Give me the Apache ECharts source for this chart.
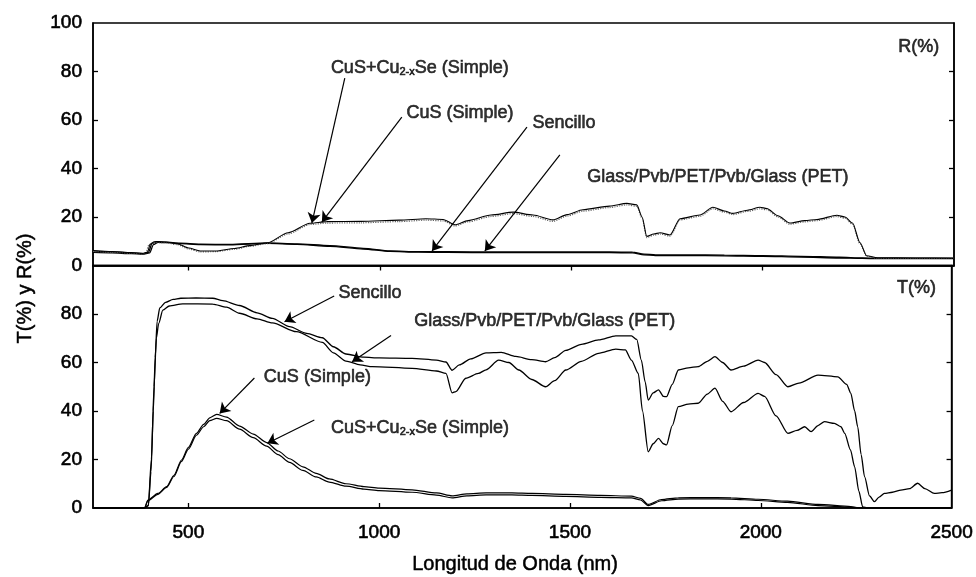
<!DOCTYPE html>
<html><head><meta charset="utf-8">
<script src="https://cdn.jsdelivr.net/npm/echarts@6/dist/echarts.min.js"></script>
<style>html,body{margin:0;padding:0;background:#fff}#c{width:976px;height:577px}</style>
</head><body><div id="c"></div>
<script>
// ---------- tick values ----------
const xTickValues = [500, 1000, 1500, 2000, 2500];
const xInnerTicks = [500, 1000, 1500, 2000];
const yLabelsTop = [0, 20, 40, 60, 80, 100];
const yLabelsBottom = [0, 20, 40, 60, 80];
const yInnerTicks = [20, 40, 60, 80];

// ---------- reflectance R(%) (top panel) [wavelength nm, %] ----------
const rSencillo = [[250,6.0],[300,5.6],[350,5.2],[380,4.9],[395,5.4],[404,9.0],[415,9.8],[440,9.6],[477,9.2],[530,8.8],[608,8.7],[705,9.3],[783,8.9],[869,8.2],[956,7.1],[1026,6.0],[1100,5.7],[1175,5.7],[1306,5.6],[1400,5.6],[1500,5.6],[1600,5.6],[1660,5.5],[1690,4.7],[1720,4.4],[1800,4.4],[1900,4.3],[2000,4.1],[2100,3.8],[2200,3.4],[2260,3.1],[2300,3.0],[2500,3.0]];
const rPET = [[250,5.4],[300,5.2],[350,4.9],[380,4.7],[398,5.2],[408,8.6],[420,9.5],[440,9.4],[477,9.0],[530,8.6],[608,8.5],[705,9.1],[783,8.7],[869,7.9],[956,6.8],[1026,5.8],[1100,5.5],[1175,5.4],[1306,5.3],[1400,5.3],[1500,5.3],[1600,5.3],[1660,5.2],[1690,4.4],[1720,4.1],[1800,4.1],[1900,4.0],[2000,3.8],[2100,3.5],[2200,3.1],[2260,2.9],[2300,2.8],[2500,2.8]];
const rCuSSe = [[250,6.2],[300,5.8],[350,5.3],[380,5.0],[392,5.5],[400,8.8],[410,9.8],[440,9.7],[470,9.0],[500,7.2],[530,6.0],[570,6.0],[620,7.0],[660,8.2],[705,9.3],[760,13.5],[817,17.4],[861,18.1],[950,18.2],[1050,18.7],[1120,19.3],[1165,19.0],[1196,16.8],[1230,18.5],[1290,20.8],[1348,22.0],[1400,20.8],[1452,18.8],[1489,21.0],[1530,23.0],[1600,24.5],[1645,25.6],[1671,25.0],[1685,20.0],[1697,12.0],[1715,13.0],[1732,13.5],[1758,12.6],[1784,19.3],[1836,20.8],[1870,24.0],[1900,22.5],[1922,21.5],[1960,22.8],[1993,24.0],[2011,23.5],[2040,20.5],[2071,17.5],[2110,18.5],[2142,19.0],[2194,20.7],[2215,20.0],[2235,17.5],[2254,9.5],[2272,4.0],[2300,3.2],[2400,3.1],[2500,3.0]];
const rCuS = [[250,5.8],[300,5.5],[350,5.1],[380,4.8],[388,5.2],[396,8.5],[408,9.5],[440,9.4],[470,8.6],[500,6.8],[530,5.6],[570,5.7],[620,6.7],[660,7.9],[705,9.0],[760,13.0],[817,16.9],[861,17.5],[950,17.6],[1050,18.1],[1120,18.7],[1165,18.4],[1196,16.3],[1230,18.0],[1290,20.2],[1348,21.4],[1400,20.2],[1452,18.2],[1489,20.4],[1530,22.4],[1600,23.9],[1645,25.0],[1671,24.4],[1685,19.4],[1697,11.5],[1715,12.5],[1732,13.0],[1758,12.1],[1784,18.8],[1836,20.3],[1870,23.4],[1900,22.0],[1922,21.0],[1960,22.3],[1993,23.4],[2011,23.0],[2040,20.0],[2071,17.0],[2110,18.0],[2142,18.5],[2194,20.2],[2215,19.5],[2235,17.0],[2254,9.0],[2272,3.7],[2300,3.0],[2400,2.9],[2500,2.9]];

// ---------- transmittance T(%) (bottom panel) [wavelength nm, %] ----------
const tSencillo = [[250,0],[385,0],[395,1],[402,15],[408,40],[413,62],[418,77],[425,82.5],[440,84.8],[460,86.0],[480,86.5],[520,86.6],[564,86.5],[590,85.5],[634,83.5],[680,80.5],[720,78.2],[765,74.8],[810,72.0],[851,70.2],[880,66.5],[913,63.5],[960,62.2],[1000,61.9],[1086,61.7],[1150,61.0],[1175,60.2],[1191,56.8],[1210,59.0],[1240,61.5],[1280,64.0],[1320,64.2],[1358,62.5],[1400,61.2],[1436,60.3],[1460,62.0],[1489,65.0],[1530,67.5],[1575,69.3],[1620,71.0],[1661,71.0],[1675,69.5],[1687,61.0],[1697,52.0],[1705,44.5],[1718,47.5],[1732,48.7],[1745,46.0],[1753,45.9],[1768,51.0],[1784,56.9],[1810,57.8],[1836,58.3],[1860,60.5],[1880,62.4],[1900,60.0],[1922,56.9],[1955,58.5],[1993,61.0],[2010,60.0],[2040,55.0],[2071,50.0],[2100,51.5],[2150,54.8],[2202,54.1],[2225,51.0],[2236,47.3],[2246,40.0],[2254,33.5],[2263,22.0],[2272,12.9],[2285,5.0],[2298,2.6],[2310,4.5],[2324,6.0],[2345,6.5],[2367,7.4],[2390,8.0],[2411,10.2],[2430,8.0],[2455,6.0],[2475,6.3],[2500,7.4]];
const tPET = [[250,0],[385,0],[395,1],[403,20],[410,50],[416,70],[422,76],[433,81.6],[450,83.3],[485,84.2],[564,84.1],[600,82.8],[634,80.3],[680,78.0],[720,76.3],[783,72.7],[851,68.3],[880,64.0],[913,60.6],[950,59.0],[982,58.3],[1086,57.6],[1150,56.5],[1175,55.5],[1191,47.5],[1201,48.0],[1227,53.5],[1260,55.5],[1280,57.0],[1313,61.0],[1340,60.0],[1366,56.9],[1400,53.0],[1436,50.0],[1460,52.5],[1489,56.9],[1530,60.5],[1575,63.8],[1620,65.5],[1645,65.2],[1661,61.0],[1679,55.5],[1690,40.0],[1705,23.2],[1718,26.5],[1732,28.7],[1745,26.5],[1753,26.0],[1768,34.0],[1784,41.8],[1810,42.8],[1836,43.2],[1860,47.0],[1880,49.4],[1900,44.0],[1922,39.7],[1955,43.5],[1993,47.3],[2010,46.0],[2040,38.0],[2071,30.8],[2095,32.0],[2115,33.5],[2132,31.5],[2150,34.0],[2167,35.6],[2193,34.9],[2210,33.5],[2220,30.8],[2235,24.0],[2246,17.0],[2257,7.0],[2267,0.5],[2280,0],[2500,0]];
const tCuS = [[250,0],[385,0],[394,3.3],[420,6.0],[443,8.8],[462,13.5],[482,19.8],[500,25.0],[521,30.8],[540,34.5],[556,37.2],[574,38.6],[600,37.5],[634,33.8],[670,30.5],[705,27.0],[735,23.5],[765,20.3],[800,17.0],[835,14.3],[869,12.0],[913,10.0],[960,8.8],[1000,8.2],[1086,7.5],[1150,6.2],[1191,5.0],[1230,5.8],[1280,6.2],[1348,6.2],[1400,6.0],[1489,5.6],[1580,5.2],[1661,4.9],[1685,4.0],[1705,1.5],[1740,3.5],[1784,4.2],[1850,4.3],[1922,4.2],[1993,3.6],[2070,2.8],[2150,1.5],[2236,0.6],[2260,0],[2500,0]];
const tCuSSe = [[250,0],[385,0],[394,3.0],[420,5.6],[443,8.5],[462,13.0],[482,19.2],[500,24.3],[521,30.0],[540,33.5],[556,36.0],[574,37.0],[600,36.0],[634,32.5],[670,29.0],[705,25.5],[735,22.0],[765,18.8],[800,15.5],[835,12.8],[869,10.7],[913,9.0],[960,7.8],[1000,7.2],[1086,6.5],[1150,5.3],[1191,4.2],[1230,5.0],[1280,5.4],[1348,5.4],[1400,5.2],[1489,4.8],[1580,4.4],[1661,4.2],[1685,3.3],[1705,1.0],[1740,3.0],[1784,3.7],[1850,3.8],[1922,3.7],[1993,3.1],[2070,2.3],[2150,1.0],[2236,0.3],[2260,0],[2500,0]];

// ---------- annotation texts and anchors (data coordinates) ----------
const annTopNames = ['CuS+Cu{s|2-x}Se (Simple)', 'CuS (Simple)', 'Sencillo', 'Glass/Pvb/PET/Pvb/Glass (PET)', 'R(%)'];
const annTopAt = [[1104, 81.4], [1209, 62.9], [1481, 58.7], [1883, 36.5], [2408, 90]];
const arrowsTop = [[[908, 77.3], [822, 17.5]], [[1057, 61.2], [848, 17.9]], [[1384, 57.1], [1136, 6.0]], [[1470, 45.6], [1274, 6.0]]];
const annBotNames = ['Sencillo', 'Glass/Pvb/PET/Pvb/Glass (PET)', 'CuS (Simple)', 'CuS+Cu{s|2-x}Se (Simple)', 'T(%)'];
const annBotAt = [[976, 88.7], [1434, 77.3], [838, 54.1], [1107, 33.0], [2408, 90.7]];
const arrowsBot = [[[882, 87.4], [752, 76.8]], [[1031, 71.1], [929, 60.3]], [[673, 53.6], [582, 39.0]], [[830, 36.3], [707, 26.7]]];

const FONT = 'Liberation Sans, Arial, sans-serif';
const black = '#000';
const heavy = { textBorderColor: black, textBorderWidth: 0.6 };

function lineSeries(name, data, xi, yi, style) {
  return {
    name, type: 'line', data, xAxisIndex: xi, yAxisIndex: yi,
    showSymbol: false, symbol: 'none', silent: true,
    smooth: 0.25, smoothMonotone: 'x',
    lineStyle: Object.assign({ color: black, width: 1.3 }, style || {}),
    emphasis: { disabled: true }, z: 3
  };
}
function annSeries(names, at, arrows, xi, yi) {
  return {
    type: 'scatter', xAxisIndex: xi, yAxisIndex: yi, silent: true,
    symbolSize: 0, z: 5,
    data: names.map((n, i) => ({ name: n, value: at[i] })),
    label: Object.assign({
      show: true, position: 'inside', formatter: p => p.name,
      color: black, fontSize: 18, fontFamily: FONT,
      rich: { s: Object.assign({ fontSize: 11, fontFamily: FONT, color: black, padding: [8, 0, 0, 0] }, heavy) }
    }, heavy),
    emphasis: { disabled: true },
    markLine: {
      silent: true, animation: false,
      symbol: ['none', 'arrow'], symbolSize: 10,
      lineStyle: { color: black, width: 1.2, type: 'solid' },
      itemStyle: { color: black },
      label: { show: false }, emphasis: { disabled: true },
      data: arrows.map(a => [
        { coord: a[0], symbol: 'none' },
        { coord: a[1], symbol: 'arrow', symbolSize: 10 }
      ])
    }
  };
}

const axisLine = { show: true, lineStyle: { color: black, width: 1.5 } };
const tickStyle = { color: black, width: 1.3 };
const numFmt = v => String(v);
const tickLabel = Object.assign({ color: black, fontSize: 19, fontFamily: FONT, formatter: numFmt }, heavy);

const option = {
  animation: false,
  backgroundColor: '#fff',
  grid: [
    { left: 93, right: 22, top: 23, height: 242.5, show: true, borderColor: black, borderWidth: 1.5 },
    { left: 93, right: 22, top: 265.5, height: 242.5, show: true, borderColor: black, borderWidth: 1.5 }
  ],
  xAxis: [
    { gridIndex: 0, type: 'value', min: 250, max: 2500, position: 'bottom', axisLine,
      axisTick: { show: false }, axisLabel: { show: false }, splitLine: { show: false } },
    { gridIndex: 0, type: 'value', min: 250, max: 2500, position: 'top', axisLine,
      axisTick: { show: true, inside: true, length: 5, lineStyle: tickStyle, customValues: xInnerTicks },
      axisLabel: { show: false }, splitLine: { show: false } },
    { gridIndex: 1, type: 'value', min: 250, max: 2500, position: 'bottom', axisLine,
      axisTick: { show: true, inside: true, length: 5, lineStyle: tickStyle, customValues: xInnerTicks },
      axisLabel: Object.assign({ show: true, customValues: xTickValues, margin: 15 }, tickLabel),
      splitLine: { show: false } }
  ],
  yAxis: [
    { gridIndex: 0, type: 'value', min: 0, max: 100, interval: 20, position: 'left', axisLine,
      axisTick: { show: true, inside: true, length: 5, lineStyle: tickStyle, customValues: yInnerTicks },
      axisLabel: Object.assign({ show: true, customValues: yLabelsTop, margin: 11 }, tickLabel),
      splitLine: { show: false } },
    { gridIndex: 0, type: 'value', min: 0, max: 100, interval: 20, position: 'right', axisLine,
      axisTick: { show: true, inside: true, length: 5, lineStyle: tickStyle, customValues: yInnerTicks },
      axisLabel: { show: false }, splitLine: { show: false } },
    { gridIndex: 1, type: 'value', min: 0, max: 100, interval: 20, position: 'left', axisLine,
      axisTick: { show: true, inside: true, length: 5, lineStyle: tickStyle, customValues: yInnerTicks },
      axisLabel: Object.assign({ show: true, customValues: yLabelsBottom, margin: 11 }, tickLabel),
      splitLine: { show: false } },
    { gridIndex: 1, type: 'value', min: 0, max: 100, interval: 20, position: 'right', axisLine,
      axisTick: { show: true, inside: true, length: 5, lineStyle: tickStyle, customValues: yInnerTicks },
      axisLabel: { show: false }, splitLine: { show: false } }
  ],
  graphic: [
    { type: 'text', left: 15, top: 'middle', rotation: Math.PI / 2,
      style: { text: 'T(%) y R(%)', fill: black, font: '20px ' + FONT, stroke: black, lineWidth: 0.5 } },
    { type: 'text', left: 412, top: 554,
      style: { text: 'Longitud de Onda (nm)', fill: black, font: '20px ' + FONT, stroke: black, lineWidth: 0.5 } }
  ],
  series: [
    lineSeries('R Sencillo', rSencillo, 0, 0),
    lineSeries('R PET', rPET, 0, 0),
    lineSeries('R CuS', rCuS, 0, 0, { color: '#666', width: 1.2, type: 'dotted' }),
    lineSeries('R CuS+Cu2-xSe', rCuSSe, 0, 0, { width: 1.1 }),
    lineSeries('T Sencillo', tSencillo, 2, 2),
    lineSeries('T PET', tPET, 2, 2),
    lineSeries('T CuS', tCuS, 2, 2, { width: 1.2 }),
    lineSeries('T CuS+Cu2-xSe', tCuSSe, 2, 2, { width: 1.2 }),
    annSeries(annTopNames, annTopAt, arrowsTop, 0, 0),
    annSeries(annBotNames, annBotAt, arrowsBot, 2, 2)
  ]
};

const chart = echarts.init(document.getElementById('c'), null, { renderer: 'canvas' });
chart.setOption(option);
</script>
</body></html>
